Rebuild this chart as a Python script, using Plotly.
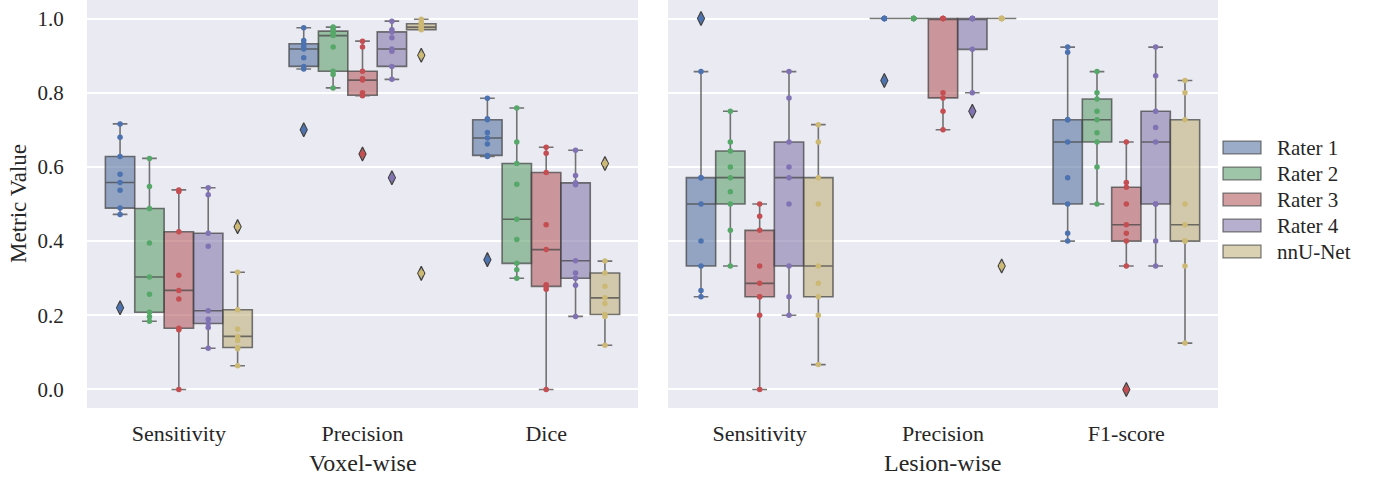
import numpy as np
import plotly.graph_objects as go
from plotly.subplots import make_subplots

# ---------------- data ----------------
raters = ["Rater 1", "Rater 2", "Rater 3", "Rater 4", "nnU-Net"]
voxel_metrics = ["Sensitivity", "Precision", "Dice"]
lesion_metrics = ["Sensitivity", "Precision", "F1-score"]

voxel_sensitivity = [
    [0.716, 0.680, 0.628, 0.580, 0.558, 0.537, 0.489, 0.472, 0.220],
    [0.623, 0.547, 0.488, 0.395, 0.303, 0.257, 0.208, 0.196, 0.184],
    [0.538, 0.534, 0.425, 0.308, 0.267, 0.244, 0.165, 0.161, 0.000],
    [0.544, 0.525, 0.421, 0.386, 0.212, 0.189, 0.178, 0.167, 0.111],
    [0.439, 0.316, 0.215, 0.163, 0.143, 0.132, 0.113, 0.110, 0.064],
]
voxel_precision = [
    [0.975, 0.941, 0.932, 0.925, 0.918, 0.894, 0.871, 0.864, 0.700],
    [0.977, 0.972, 0.966, 0.960, 0.954, 0.923, 0.858, 0.849, 0.813],
    [0.939, 0.923, 0.858, 0.838, 0.834, 0.800, 0.793, 0.792, 0.635],
    [0.993, 0.970, 0.964, 0.948, 0.918, 0.912, 0.871, 0.836, 0.571],
    [0.998, 0.990, 0.986, 0.980, 0.977, 0.974, 0.970, 0.901, 0.313],
]
voxel_dice = [
    [0.785, 0.730, 0.727, 0.693, 0.678, 0.662, 0.631, 0.628, 0.350],
    [0.759, 0.667, 0.609, 0.553, 0.459, 0.404, 0.340, 0.323, 0.300],
    [0.653, 0.637, 0.585, 0.444, 0.377, 0.282, 0.278, 0.270, 0.000],
    [0.645, 0.577, 0.557, 0.552, 0.347, 0.314, 0.300, 0.281, 0.197],
    [0.609, 0.346, 0.314, 0.278, 0.247, 0.232, 0.202, 0.197, 0.119],
]
lesion_sensitivity = [
    [1.000, 0.857, 0.571, 0.571, 0.500, 0.400, 0.333, 0.267, 0.250],
    [0.750, 0.667, 0.643, 0.600, 0.571, 0.533, 0.500, 0.429, 0.333],
    [0.500, 0.467, 0.429, 0.333, 0.286, 0.250, 0.250, 0.200, 0.000],
    [0.857, 0.786, 0.667, 0.600, 0.571, 0.500, 0.333, 0.250, 0.200],
    [0.714, 0.667, 0.571, 0.500, 0.333, 0.286, 0.250, 0.200, 0.067],
]
lesion_precision = [
    [1.0, 1.0, 1.0, 1.0, 1.0, 1.0, 1.0, 1.0, 0.833],
    [1.0, 1.0, 1.0, 1.0, 1.0, 1.0, 1.0, 1.0, 1.0],
    [1.0, 1.0, 1.0, 1.0, 1.0, 0.800, 0.786, 0.750, 0.700],
    [1.0, 1.0, 1.0, 1.0, 1.0, 1.0, 0.917, 0.800, 0.750],
    [1.0, 1.0, 1.0, 1.0, 1.0, 1.0, 1.0, 1.0, 0.333],
]
lesion_f1 = [
    [0.923, 0.909, 0.727, 0.727, 0.667, 0.571, 0.500, 0.421, 0.400],
    [0.857, 0.800, 0.783, 0.750, 0.727, 0.692, 0.667, 0.600, 0.500],
    [0.667, 0.558, 0.545, 0.500, 0.444, 0.421, 0.400, 0.333, 0.000],
    [0.923, 0.846, 0.750, 0.706, 0.667, 0.500, 0.500, 0.400, 0.333],
    [0.833, 0.800, 0.727, 0.500, 0.444, 0.400, 0.400, 0.333, 0.125],
]
panel_titles = ["Voxel-wise", "Lesion-wise"]
y_title = "Metric Value"

point_colors = ["#4C72B0", "#55A868", "#C44E52", "#8172B3", "#CCB974"]
box_colors = [(88, 117, 164), (95, 158, 110), (181, 93, 96), (133, 122, 171), (193, 179, 127)]

FONT = "Liberation Serif"
TXT = "#262626"
BG = "#EAEAF2"
EDGE = "rgba(63,63,63,0.7)"

# layout geometry (pixels)
L, R_, T, B = 87, 161, 0, 71
W = 1379 - L - R_
H = 479 - T - B
left_dom = [0, 551 / W]
right_dom = [581 / W, 1]

panels = [
    (voxel_metrics, [voxel_sensitivity, voxel_precision, voxel_dice]),
    (lesion_metrics, [lesion_sensitivity, lesion_precision, lesion_f1]),
]

fig = make_subplots(rows=1, cols=2, shared_yaxes=True)

n_r = len(raters)
bw = 0.8 / n_r


def box_stats(vals):
    a = np.asarray(vals, dtype=float)
    q1, med, q3 = np.percentile(a, [25, 50, 75])
    iqr = q3 - q1
    lo_f, hi_f = q1 - 1.5 * iqr, q3 + 1.5 * iqr
    inside = a[(a >= lo_f) & (a <= hi_f)]
    lw, uw = inside.min(), inside.max()
    out = a[(a < lo_f) | (a > hi_f)]
    return q1, med, q3, lw, uw, out


for col, (metrics, datasets) in enumerate(panels, start=1):
    for m_i, data in enumerate(datasets):
        for r_i in range(n_r):
            pos = m_i - 0.4 + bw / 2 + bw * r_i
            vals = data[r_i]
            q1, med, q3, lw, uw, out = box_stats(vals)
            c = box_colors[r_i]
            fig.add_trace(go.Box(
                x=[pos], q1=[q1], median=[med], q3=[q3],
                lowerfence=[lw], upperfence=[uw],
                width=bw, whiskerwidth=0.5,
                fillcolor=f"rgba({c[0]},{c[1]},{c[2]},0.6)",
                line=dict(color=EDGE, width=1.6),
                boxpoints=False, showlegend=False, hoverinfo="skip",
            ), row=1, col=col)
            if len(out):
                fig.add_trace(go.Scatter(
                    x=[pos] * len(out), y=list(out), mode="markers",
                    marker=dict(symbol="diamond-tall", size=10,
                                color=f"rgb({c[0]},{c[1]},{c[2]})",
                                line=dict(color="#3f3f3f", width=1.2)),
                    showlegend=False, hoverinfo="skip",
                ), row=1, col=col)
            fig.add_trace(go.Scatter(
                x=[pos] * len(vals), y=vals, mode="markers",
                marker=dict(size=5.5, color=point_colors[r_i]),
                showlegend=False, hoverinfo="skip",
            ), row=1, col=col)

    fig.update_xaxes(
        range=[-0.5, 2.5], tickvals=list(range(len(metrics))), ticktext=metrics,
        showgrid=False, zeroline=False, showline=False, ticks="outside", ticklen=6,
        tickcolor="rgba(0,0,0,0)", automargin=False,
        domain=left_dom if col == 1 else right_dom,
        tickfont=dict(family=FONT, size=22, color=TXT),
        row=1, col=col,
    )

fig.update_yaxes(
    range=[-0.05, 1.05], tickvals=[0, 0.2, 0.4, 0.6, 0.8, 1.0],
    ticktext=["0.0", "0.2", "0.4", "0.6", "0.8", "1.0"],
    showgrid=True, gridcolor="white", gridwidth=1.6, zeroline=False, showline=False,
    ticks="outside", ticklen=18, tickcolor="rgba(0,0,0,0)", automargin=False,
    tickfont=dict(family=FONT, size=21, color=TXT),
)


def px_x(p):
    return (p - L) / W


def px_y(p):
    return 1 - (p - T) / H


# axis titles as annotations
for dom, title in zip([left_dom, right_dom], panel_titles):
    fig.add_annotation(xref="paper", yref="paper", x=(dom[0] + dom[1]) / 2, y=px_y(463),
                       text=title, showarrow=False, xanchor="center", yanchor="middle",
                       font=dict(family=FONT, size=24, color=TXT))
fig.add_annotation(xref="paper", yref="paper", x=px_x(18), y=px_y(204),
                   text=y_title, showarrow=False, textangle=-90,
                   xanchor="center", yanchor="middle",
                   font=dict(family=FONT, size=23, color=TXT))

# manual legend (seaborn style patches)
for r_i, name in enumerate(raters):
    cy = 147.5 + 26 * r_i
    c = box_colors[r_i]
    fig.add_shape(type="rect", xref="paper", yref="paper",
                  x0=px_x(1223), x1=px_x(1261), y0=px_y(cy + 6.3), y1=px_y(cy - 6.3),
                  fillcolor=f"rgba({c[0]},{c[1]},{c[2]},0.6)",
                  line=dict(color="rgba(63,63,63,0.7)", width=1.2))
    fig.add_annotation(xref="paper", yref="paper", x=px_x(1275), y=px_y(cy),
                       text=name, showarrow=False, xanchor="left", yanchor="middle",
                       font=dict(family=FONT, size=21, color=TXT))

fig.update_layout(
    width=1379, height=479,
    margin=dict(l=L, r=R_, t=T, b=B, autoexpand=False),
    paper_bgcolor="white", plot_bgcolor=BG,
    showlegend=False,
)

fig.write_html("out.html", config={"displayModeBar": False},
               post_script="document.body.style.margin='0';")
